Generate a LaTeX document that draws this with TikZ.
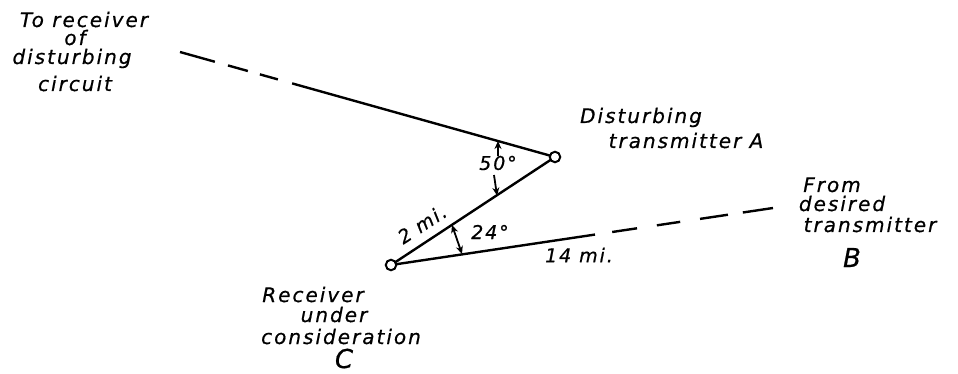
\documentclass[tikz,border=0pt]{standalone}
\usepackage{fontspec}
\setmainfont{DejaVu Sans}
\newfontfamily\hand[LetterSpace=10,FakeBold=0.6]{DejaVu Sans}
\usetikzlibrary{calc,arrows.meta}
\begin{document}
\begin{tikzpicture}[x=1pt,y=-1pt,
  txt/.style={font=\hand\itshape\fontsize{20}{20}\selectfont, inner sep=0pt, anchor=base},
  big/.style={font=\hand\itshape\fontsize{26}{26}\selectfont, inner sep=0pt, anchor=base},
  small/.style={font=\hand\itshape\fontsize{19}{19}\selectfont, inner sep=0pt},
  wire/.style={line width=2.4pt},
  tipstyle/.tip={Stealth[length=8pt,width=7pt]},
  dimarrow/.style={line width=1.8pt, -tipstyle},
  station/.style={circle, draw, fill=white, line width=2pt, minimum size=10.5pt, inner sep=0pt}
]
\useasboundingbox (0,0) rectangle (958,374);

% stations
\coordinate (Apos) at (555,157);
\coordinate (Cpos) at (391,265);
\coordinate (L) at (180,52);
\coordinate (E) at (773,208);

% line from A toward receiver of disturbing circuit
\draw[wire] (Apos) -- ($(Apos)!0.701!(L)$);
\draw[wire] ($(Apos)!0.739!(L)$) -- ($(Apos)!0.787!(L)$);
\draw[wire] ($(Apos)!0.819!(L)$) -- ($(Apos)!0.872!(L)$);
\draw[wire] ($(Apos)!0.907!(L)$) -- (L);

% line A to C
\draw[wire] (Apos) -- (Cpos);

% line from C toward desired transmitter
\draw[wire] (Cpos) -- ($(Cpos)!0.534!(E)$);
\draw[wire] ($(Cpos)!0.579!(E)$) -- ($(Cpos)!0.644!(E)$);
\draw[wire] ($(Cpos)!0.696!(E)$) -- ($(Cpos)!0.757!(E)$);
\draw[wire] ($(Cpos)!0.809!(E)$) -- ($(Cpos)!0.882!(E)$);
\draw[wire] ($(Cpos)!0.921!(E)$) -- (E);

\node[station] (A) at (Apos) {};
\node[station] (C) at (Cpos) {};

% 50 degree angle
\node[small] (a50) at (498,163) {50°};
\coordinate (u1) at (498,141);
\coordinate (d1) at (497,195.5);
\coordinate (s1) at (494,175);
\draw[dimarrow] (a50.north) -- (u1);
\draw[dimarrow] (s1) -- (d1);

% 24 degree angle
\node[small] (a24) at (490,232) {24°};
\coordinate (u2) at (452,225);
\coordinate (d2) at (462,254);
\draw[line width=1.8pt, tipstyle-tipstyle] (u2) -- (d2);

% distances
\node[small, rotate=33] (d2mi) at (422,224) {2 mi.};
\node[small] (d14mi) at (579,255) {14 mi.};

% labels
\node[txt] (t1) at (84,27) {To receiver};
\node[txt] (t2) at (75,45) {of};
\node[txt] (t3) at (72,64) {disturbing};
\node[txt] (t4) at (75,91) {circuit};

\node[txt] (a1) at (641,123) {Disturbing};
\node[txt] (a2) at (686,148) {transmitter A};

\node[txt] (b1) at (832,192) {From};
\node[txt] (b2) at (842,211) {desired};
\node[txt] (b3) at (870,232) {transmitter};
\node[big] (b4) at (852,267) {B};

\node[txt] (c1) at (313,302) {Receiver};
\node[txt] (c2) at (334,322) {under};
\node[txt] (c3) at (341,344) {consideration};
\node[big] (c4) at (344,368) {C};
\end{tikzpicture}
\end{document}
